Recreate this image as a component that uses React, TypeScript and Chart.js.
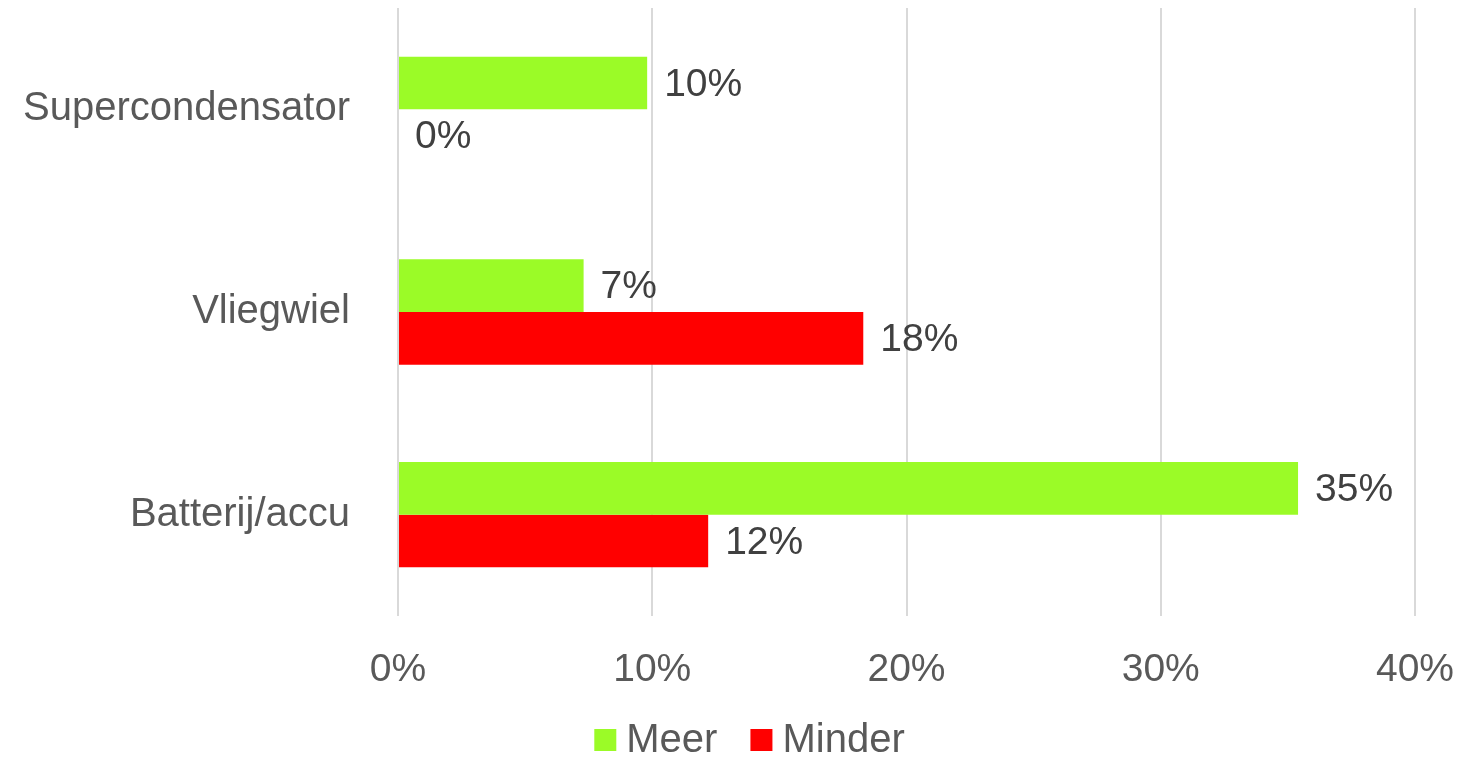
import React, { useEffect, useRef } from "react";
import { Chart, registerables } from "chart.js";

Chart.register(...registerables);

const categories = ["Supercondensator", "Vliegwiel", "Batterij/accu"];
const meerValues = [9.8, 7.3, 35.4];
const minderValues = [0, 18.3, 12.2];
const xTicks = [0, 10, 20, 30, 40];

const FONT = "'Liberation Sans', Arial, sans-serif";

const dataLabels = {
  id: "dataLabels",
  afterDatasetsDraw(chart: any) {
    const ctx = chart.ctx;
    ctx.save();
    ctx.font = `39px ${FONT}`;
    ctx.fillStyle = "#404040";
    ctx.textAlign = "left";
    ctx.textBaseline = "middle";
    chart.data.datasets.forEach((ds: any, di: number) => {
      const meta = chart.getDatasetMeta(di);
      meta.data.forEach((el: any, i: number) => {
        const v = ds.data[i];
        ctx.fillText(Math.round(v) + "%", el.x + 17, el.y + 2);
      });
    });
    ctx.restore();
  },
};

const bottomLegend = {
  id: "bottomLegend",
  afterDraw(chart: any) {
    const ctx = chart.ctx;
    ctx.save();
    ctx.font = `40px ${FONT}`;
    ctx.textBaseline = "middle";
    ctx.textAlign = "left";
    const box = 22;
    const gap = 10;
    const itemGap = 33;
    const items = chart.data.datasets.map((ds: any) => ({
      label: ds.label,
      color: ds.backgroundColor,
      w: box + gap + ctx.measureText(ds.label).width,
    }));
    const total = items.reduce((s: number, it: any) => s + it.w, 0) + itemGap * (items.length - 1);
    const centerX = chart.width / 2 + 9;
    const cy = 740;
    let x = centerX - total / 2;
    items.forEach((it: any) => {
      ctx.fillStyle = it.color;
      ctx.fillRect(x, cy - box / 2, box, box);
      ctx.fillStyle = "#595959";
      ctx.fillText(it.label, x + box + gap, cy + 1);
      x += it.w + itemGap;
    });
    ctx.restore();
  },
};

export default function App() {
  const ref = useRef<HTMLCanvasElement>(null);
  useEffect(() => {
    const chart = new Chart(ref.current!, {
      type: "bar",
      data: {
        labels: categories,
        datasets: [
          { label: "Meer", data: meerValues, backgroundColor: "#9BFB27", borderWidth: 0 },
          { label: "Minder", data: minderValues, backgroundColor: "#FF0000", borderWidth: 0 },
        ],
      },
      options: {
        indexAxis: "y",
        animation: false,
        responsive: false,
        maintainAspectRatio: false,
        layout: { autoPadding: false, padding: { top: 8, right: 66, left: 0, bottom: 0 } },
        datasets: { bar: { categoryPercentage: 0.52, barPercentage: 1 } },
        scales: {
          x: {
            min: 0,
            max: 40,
            afterBuildTicks(axis: any) {
              axis.ticks = xTicks.map((v) => ({ value: v }));
            },
            afterFit(axis: any) {
              axis.height = 142;
              axis.paddingLeft = 0;
              axis.paddingRight = 0;
            },
            grid: { color: "#D9D9D9", lineWidth: 2, drawTicks: false },
            border: { display: false },
            ticks: {
              padding: 31,
              color: "#595959",
              font: { family: FONT, size: 39 },
              callback: (v: any) => v + "%",
            },
          },
          y: {
            afterFit(axis: any) {
              axis.width = 398;
              axis.paddingTop = 0;
              axis.paddingBottom = 0;
            },
            grid: { display: false, drawTicks: false },
            border: { display: false },
            ticks: {
              padding: 48,
              color: "#595959",
              font: { family: FONT, size: 40 },
            },
          },
        },
        plugins: {
          legend: { display: false },
          tooltip: { enabled: false },
        },
      },
      plugins: [dataLabels, bottomLegend],
    });
    return () => chart.destroy();
  }, []);
  return (
    <div style={{ position: "fixed", left: 0, top: 0, width: 1481, height: 758, background: "#fff" }}>
      <canvas ref={ref} width={1481} height={758} style={{ display: "block" }} />
    </div>
  );
}
